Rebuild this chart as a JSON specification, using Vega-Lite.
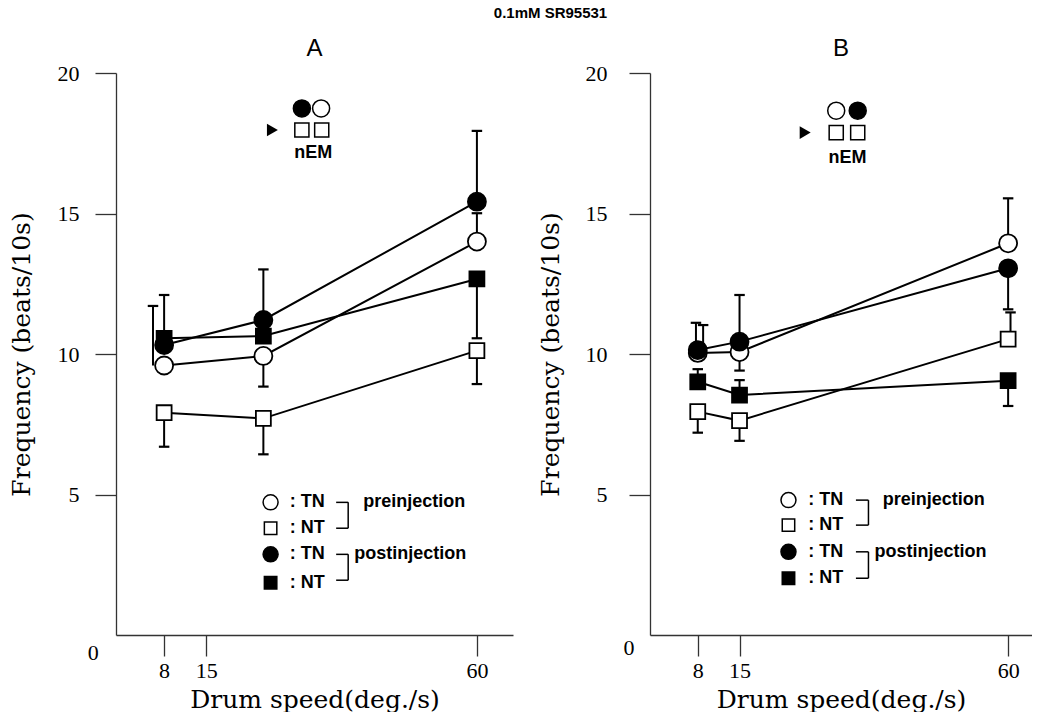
{
  "$schema": "https://vega.github.io/schema/vega-lite/v6.json",
  "background": "white",
  "padding": {"left": 9, "top": 6, "right": 0, "bottom": 0},
  "spacing": 25,
  "title": {"text": "0.1mM SR95531", "font": "Liberation Sans", "fontSize": 15, "fontWeight": "bold", "anchor": "middle", "dx": 30, "offset": 16, "color": "black"},
  "config": {
    "view": {"stroke": null},
    "axis": {"grid": false, "domainColor": "#333", "tickColor": "#333", "domainWidth": 1.3, "tickWidth": 1.3, "labelColor": "black", "titleColor": "black", "titleFontWeight": "normal", "labelFont": "Liberation Serif", "labelFontSize": 22, "titleFont": "DejaVu Serif", "titleFontSize": 25, "tickSize": 21}
  },
  "datasets": {
    "ptsA": [
      {"s": "pre TN", "x": 8, "y": 9.59}, {"s": "pre TN", "x": 24.5, "y": 9.93}, {"s": "pre TN", "x": 60, "y": 14.0},
      {"s": "pre NT", "x": 8, "y": 7.91}, {"s": "pre NT", "x": 24.5, "y": 7.71}, {"s": "pre NT", "x": 60, "y": 10.12},
      {"s": "post TN", "x": 8, "y": 10.32}, {"s": "post TN", "x": 24.5, "y": 11.21}, {"s": "post TN", "x": 60, "y": 15.42},
      {"s": "post NT", "x": 8, "y": 10.56}, {"s": "post NT", "x": 24.5, "y": 10.64}, {"s": "post NT", "x": 60, "y": 12.67}
    ],
    "errA": [
      {"s": "pre TN", "x": 6.15, "y": 11.71, "v": 9.59},
      {"s": "post NT", "x": 8, "y": 12.1, "v": 10.56},
      {"s": "pre TN", "x": 24.5, "y": 8.84, "v": 9.93},
      {"s": "post TN", "x": 24.5, "y": 13.01, "v": 11.21},
      {"s": "pre NT", "x": 8, "y": 6.7, "v": 7.91},
      {"s": "pre NT", "x": 24.5, "y": 6.43, "v": 7.71},
      {"s": "post TN", "x": 60, "y": 17.94, "v": 15.42},
      {"s": "pre TN", "x": 60, "y": 15.01, "v": 14.0},
      {"s": "post NT", "x": 60, "y": 10.56, "v": 12.67},
      {"s": "pre NT", "x": 60, "y": 8.93, "v": 10.12}
    ],
    "ptsB": [
      {"s": "pre TN", "x": 8, "y": 10.04}, {"s": "pre TN", "x": 15, "y": 10.07}, {"s": "pre TN", "x": 60, "y": 13.94},
      {"s": "pre NT", "x": 8, "y": 7.95}, {"s": "pre NT", "x": 15, "y": 7.63}, {"s": "pre NT", "x": 60, "y": 10.53},
      {"s": "post TN", "x": 8, "y": 10.14}, {"s": "post TN", "x": 15, "y": 10.44}, {"s": "post TN", "x": 60, "y": 13.05},
      {"s": "post NT", "x": 8, "y": 9.01}, {"s": "post NT", "x": 15, "y": 8.54}, {"s": "post NT", "x": 60, "y": 9.05}
    ],
    "errB": [
      {"s": "pre TN", "x": 8.9, "y": 11.03, "v": 10.04},
      {"s": "post TN", "x": 7.7, "y": 11.11, "v": 10.14},
      {"s": "pre TN", "x": 15, "y": 9.41, "v": 10.07},
      {"s": "post TN", "x": 15, "y": 12.1, "v": 10.44},
      {"s": "pre TN", "x": 60, "y": 15.54, "v": 13.94},
      {"s": "post TN", "x": 60, "y": 11.59, "v": 13.05},
      {"s": "pre NT", "x": 8, "y": 7.2, "v": 7.95},
      {"s": "pre NT", "x": 15, "y": 6.91, "v": 7.63},
      {"s": "pre NT", "x": 60.4, "y": 11.48, "v": 10.53},
      {"s": "post NT", "x": 8, "y": 9.46, "v": 9.01},
      {"s": "post NT", "x": 15, "y": 9.07, "v": 8.54},
      {"s": "post NT", "x": 60, "y": 8.15, "v": 9.05}
    ],
    "legSymA": [
      {"s": "pre TN", "x": 25.7, "y": 4.72}, {"s": "pre NT", "x": 25.7, "y": 3.8},
      {"s": "post TN", "x": 25.7, "y": 2.87}, {"s": "post NT", "x": 25.7, "y": 1.86}
    ],
    "legTxtA": [
      {"t": ":  TN", "x": 28.9, "y": 4.72}, {"t": ":  NT", "x": 28.9, "y": 3.8},
      {"t": ":  TN", "x": 28.9, "y": 2.87}, {"t": ":  NT", "x": 28.9, "y": 1.86},
      {"t": "preinjection", "x": 41.1, "y": 4.72}, {"t": "postinjection", "x": 39.6, "y": 2.87}
    ],
    "brA": [
      {"x": 36.6, "x2": 38.6, "y": 4.72, "y2": 4.72}, {"x": 38.6, "x2": 38.6, "y": 4.72, "y2": 3.8}, {"x": 36.6, "x2": 38.6, "y": 3.8, "y2": 3.8},
      {"x": 36.6, "x2": 38.6, "y": 2.87, "y2": 2.87}, {"x": 38.6, "x2": 38.6, "y": 2.87, "y2": 1.95}, {"x": 36.6, "x2": 38.6, "y": 1.95, "y2": 1.95}
    ],
    "insA": [
      {"s": "post TN", "x": 30.9, "y": 18.74}, {"s": "pre TN", "x": 34.1, "y": 18.74},
      {"s": "pre NT", "x": 30.9, "y": 17.97}, {"s": "pre NT", "x": 34.2, "y": 17.97}
    ],
    "arrA": [{"x": 26.0, "y": 17.97}],
    "nemA": [{"t": "nEM", "x": 32.8, "y": 17.14}],
    "zeroA": [{"t": "0", "x": -3.77, "y": -0.64}],
    "legSymB": [
      {"s": "pre TN", "x": 23.2, "y": 4.8}, {"s": "pre NT", "x": 23.2, "y": 3.91},
      {"s": "post TN", "x": 23.2, "y": 2.96}, {"s": "post NT", "x": 23.2, "y": 2.02}
    ],
    "legTxtB": [
      {"t": ":  TN", "x": 26.5, "y": 4.8}, {"t": ":  NT", "x": 26.5, "y": 3.91},
      {"t": ":  TN", "x": 26.5, "y": 2.96}, {"t": ":  NT", "x": 26.5, "y": 2.02},
      {"t": "preinjection", "x": 39.0, "y": 4.8}, {"t": "postinjection", "x": 37.6, "y": 2.96}
    ],
    "brB": [
      {"x": 34.5, "x2": 36.6, "y": 4.8, "y2": 4.8}, {"x": 36.6, "x2": 36.6, "y": 4.8, "y2": 3.91}, {"x": 34.5, "x2": 36.6, "y": 3.91, "y2": 3.91},
      {"x": 34.5, "x2": 36.6, "y": 2.96, "y2": 2.96}, {"x": 36.6, "x2": 36.6, "y": 2.96, "y2": 2.02}, {"x": 34.5, "x2": 36.6, "y": 2.02, "y2": 2.02}
    ],
    "insB": [
      {"s": "pre TN", "x": 31.2, "y": 18.66}, {"s": "post TN", "x": 34.8, "y": 18.66},
      {"s": "pre NT", "x": 31.2, "y": 17.88}, {"s": "pre NT", "x": 34.8, "y": 17.88}
    ],
    "arrB": [{"x": 26.0, "y": 17.88}],
    "nemB": [{"t": "nEM", "x": 33.1, "y": 16.96}],
    "zeroB": [{"t": "0", "x": -3.5, "y": -0.47}]
  },
  "hconcat": [
    {
      "width": 397,
      "height": 562,
      "title": {"text": "A", "font": "Liberation Sans", "fontSize": 24, "fontWeight": "normal", "anchor": "middle", "offset": 1, "color": "black"},
      "encoding": {
        "x": {"field": "x", "type": "quantitative", "scale": {"domain": [0, 66], "nice": false, "zero": false},
              "axis": {"values": [8, 15, 60], "title": "Drum speed(deg./s)", "labelPadding": 4, "titlePadding": 6}},
        "y": {"field": "y", "type": "quantitative", "scale": {"domain": [0, 20], "nice": false},
              "axis": {"values": [5, 10, 15, 20], "title": "Frequency (beats/10s)", "labelPadding": 16, "titlePadding": 23}}
      },
      "layer": [
        {"data": {"name": "ptsA"}, "mark": {"type": "line", "color": "black", "strokeWidth": 2}, "encoding": {"detail": {"field": "s"}}},
        {"data": {"name": "errA"}, "mark": {"type": "rule", "color": "black", "strokeWidth": 2}, "encoding": {"y2": {"field": "v"}}},
        {"data": {"name": "errA"}, "mark": {"type": "point", "shape": "M-1,0H1", "size": 110, "color": "black", "strokeWidth": 2.2, "opacity": 1}},
        {"data": {"name": "ptsA"}, "mark": {"type": "point", "filled": true, "stroke": "black", "strokeWidth": 1.8, "size": 324, "opacity": 1},
         "encoding": {
           "shape": {"field": "s", "type": "nominal", "scale": {"domain": ["pre TN", "pre NT", "post TN", "post NT"], "range": ["circle", "M-0.83,-0.83H0.83V0.83H-0.83Z", "circle", "M-0.83,-0.83H0.83V0.83H-0.83Z"]}, "legend": null},
           "fill": {"field": "s", "type": "nominal", "scale": {"domain": ["pre TN", "pre NT", "post TN", "post NT"], "range": ["white", "white", "black", "black"]}, "legend": null}
         }},
        {"data": {"name": "legSymA"}, "mark": {"type": "point", "filled": true, "stroke": "black", "strokeWidth": 1.5, "size": 225, "opacity": 1},
         "encoding": {
           "shape": {"field": "s", "type": "nominal", "scale": {"domain": ["pre TN", "pre NT", "post TN", "post NT"], "range": ["circle", "M-0.83,-0.83H0.83V0.83H-0.83Z", "circle", "M-0.83,-0.83H0.83V0.83H-0.83Z"]}, "legend": null},
           "fill": {"field": "s", "type": "nominal", "scale": {"domain": ["pre TN", "pre NT", "post TN", "post NT"], "range": ["white", "white", "black", "black"]}, "legend": null}
         }},
        {"data": {"name": "legTxtA"}, "mark": {"type": "text", "align": "left", "baseline": "middle", "font": "Liberation Sans", "fontWeight": "bold", "fontSize": 18, "color": "black"}, "encoding": {"text": {"field": "t"}}},
        {"data": {"name": "brA"}, "mark": {"type": "rule", "color": "black", "strokeWidth": 1.5}, "encoding": {"x2": {"field": "x2"}, "y2": {"field": "y2"}}},
        {"data": {"name": "insA"}, "mark": {"type": "point", "filled": true, "stroke": "black", "strokeWidth": 1.5, "size": 289, "opacity": 1},
         "encoding": {
           "shape": {"field": "s", "type": "nominal", "scale": {"domain": ["pre TN", "pre NT", "post TN", "post NT"], "range": ["circle", "M-0.83,-0.83H0.83V0.83H-0.83Z", "circle", "M-0.83,-0.83H0.83V0.83H-0.83Z"]}, "legend": null},
           "fill": {"field": "s", "type": "nominal", "scale": {"domain": ["pre TN", "pre NT", "post TN", "post NT"], "range": ["white", "white", "black", "black"]}, "legend": null}
         }},
        {"data": {"name": "arrA"}, "mark": {"type": "point", "shape": "triangle-right", "filled": true, "color": "black", "size": 160, "opacity": 1}},
        {"data": {"name": "nemA"}, "mark": {"type": "text", "align": "center", "baseline": "middle", "font": "Liberation Sans", "fontWeight": "bold", "fontSize": 18, "color": "black"}, "encoding": {"text": {"field": "t"}}},
        {"data": {"name": "zeroA"}, "mark": {"type": "text", "align": "center", "baseline": "middle", "font": "Liberation Serif", "fontSize": 22, "color": "black"}, "encoding": {"text": {"field": "t"}}}
      ]
    },
    {
      "width": 382,
      "height": 562,
      "title": {"text": "B", "font": "Liberation Sans", "fontSize": 24, "fontWeight": "normal", "anchor": "middle", "offset": 1, "color": "black"},
      "encoding": {
        "x": {"field": "x", "type": "quantitative", "scale": {"domain": [0, 64], "nice": false, "zero": false},
              "axis": {"values": [8, 15, 60], "title": "Drum speed(deg./s)", "labelPadding": 4, "titlePadding": 6}},
        "y": {"field": "y", "type": "quantitative", "scale": {"domain": [0, 20], "nice": false},
              "axis": {"values": [5, 10, 15, 20], "title": "Frequency (beats/10s)", "labelPadding": 22, "titlePadding": 22}}
      },
      "layer": [
        {"data": {"name": "ptsB"}, "mark": {"type": "line", "color": "black", "strokeWidth": 2}, "encoding": {"detail": {"field": "s"}}},
        {"data": {"name": "errB"}, "mark": {"type": "rule", "color": "black", "strokeWidth": 2}, "encoding": {"y2": {"field": "v"}}},
        {"data": {"name": "errB"}, "mark": {"type": "point", "shape": "M-1,0H1", "size": 110, "color": "black", "strokeWidth": 2.2, "opacity": 1}},
        {"data": {"name": "ptsB"}, "mark": {"type": "point", "filled": true, "stroke": "black", "strokeWidth": 1.8, "size": 324, "opacity": 1},
         "encoding": {
           "shape": {"field": "s", "type": "nominal", "scale": {"domain": ["pre TN", "pre NT", "post TN", "post NT"], "range": ["circle", "M-0.83,-0.83H0.83V0.83H-0.83Z", "circle", "M-0.83,-0.83H0.83V0.83H-0.83Z"]}, "legend": null},
           "fill": {"field": "s", "type": "nominal", "scale": {"domain": ["pre TN", "pre NT", "post TN", "post NT"], "range": ["white", "white", "black", "black"]}, "legend": null}
         }},
        {"data": {"name": "legSymB"}, "mark": {"type": "point", "filled": true, "stroke": "black", "strokeWidth": 1.5, "size": 225, "opacity": 1},
         "encoding": {
           "shape": {"field": "s", "type": "nominal", "scale": {"domain": ["pre TN", "pre NT", "post TN", "post NT"], "range": ["circle", "M-0.83,-0.83H0.83V0.83H-0.83Z", "circle", "M-0.83,-0.83H0.83V0.83H-0.83Z"]}, "legend": null},
           "fill": {"field": "s", "type": "nominal", "scale": {"domain": ["pre TN", "pre NT", "post TN", "post NT"], "range": ["white", "white", "black", "black"]}, "legend": null}
         }},
        {"data": {"name": "legTxtB"}, "mark": {"type": "text", "align": "left", "baseline": "middle", "font": "Liberation Sans", "fontWeight": "bold", "fontSize": 18, "color": "black"}, "encoding": {"text": {"field": "t"}}},
        {"data": {"name": "brB"}, "mark": {"type": "rule", "color": "black", "strokeWidth": 1.5}, "encoding": {"x2": {"field": "x2"}, "y2": {"field": "y2"}}},
        {"data": {"name": "insB"}, "mark": {"type": "point", "filled": true, "stroke": "black", "strokeWidth": 1.5, "size": 289, "opacity": 1},
         "encoding": {
           "shape": {"field": "s", "type": "nominal", "scale": {"domain": ["pre TN", "pre NT", "post TN", "post NT"], "range": ["circle", "M-0.83,-0.83H0.83V0.83H-0.83Z", "circle", "M-0.83,-0.83H0.83V0.83H-0.83Z"]}, "legend": null},
           "fill": {"field": "s", "type": "nominal", "scale": {"domain": ["pre TN", "pre NT", "post TN", "post NT"], "range": ["white", "white", "black", "black"]}, "legend": null}
         }},
        {"data": {"name": "arrB"}, "mark": {"type": "point", "shape": "triangle-right", "filled": true, "color": "black", "size": 160, "opacity": 1}},
        {"data": {"name": "nemB"}, "mark": {"type": "text", "align": "center", "baseline": "middle", "font": "Liberation Sans", "fontWeight": "bold", "fontSize": 18, "color": "black"}, "encoding": {"text": {"field": "t"}}},
        {"data": {"name": "zeroB"}, "mark": {"type": "text", "align": "center", "baseline": "middle", "font": "Liberation Serif", "fontSize": 22, "color": "black"}, "encoding": {"text": {"field": "t"}}}
      ]
    }
  ]
}
